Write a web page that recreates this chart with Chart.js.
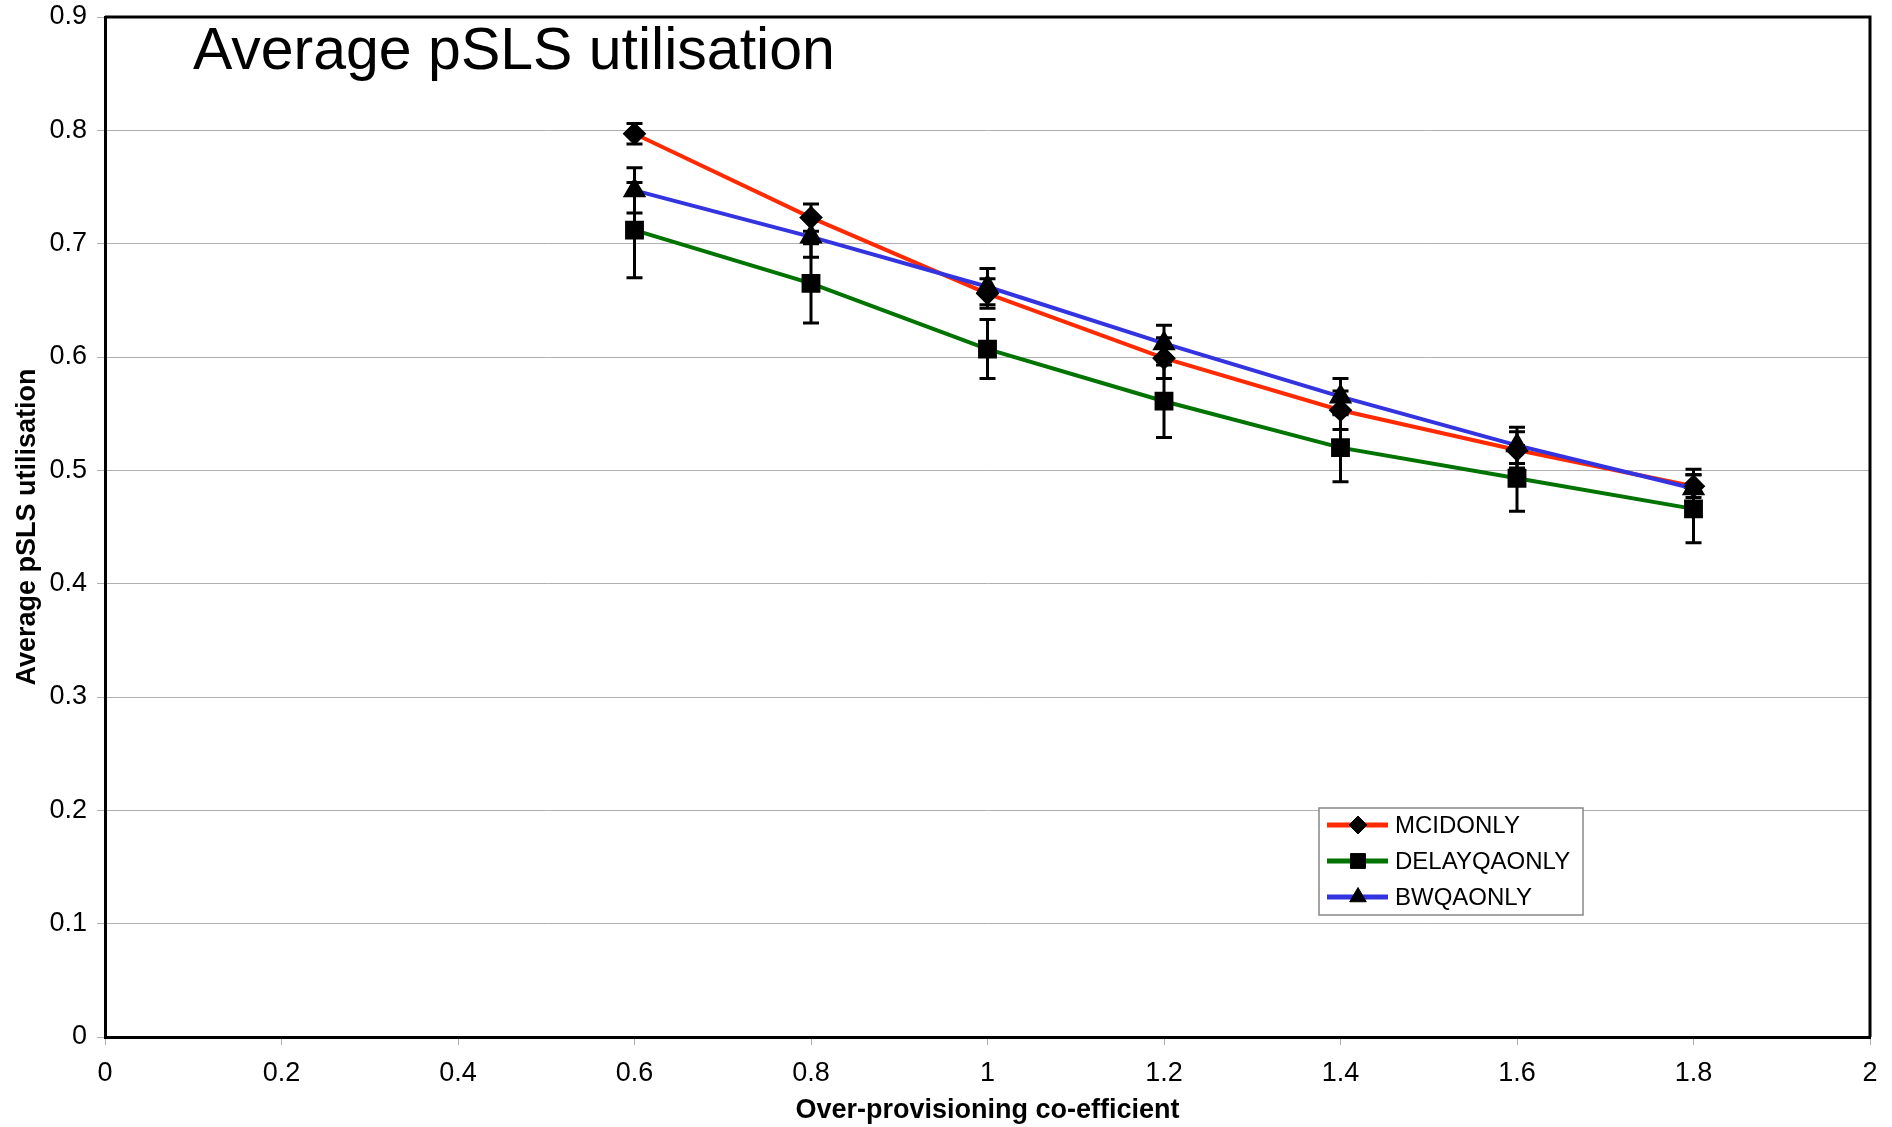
<!DOCTYPE html>
<html>
<head>
<meta charset="utf-8">
<script src="https://cdn.jsdelivr.net/npm/chart.js@4.4.0/dist/chart.umd.min.js"></script>
<style>
  body { margin: 0; background: #fff; }
  canvas { display: block; }
</style>
</head>
<body>
<canvas id="lineCanvas" width="1892" height="1127"></canvas>
<script>
// values
const xValues = [0.6, 0.8, 1.0, 1.2, 1.4, 1.6, 1.8]
const seriesNames = ["MCIDONLY", "DELAYQAONLY", "BWQAONLY"]
const mcidOnly = [0.797, 0.723, 0.656, 0.599, 0.553, 0.518, 0.486]
const mcidErr = [0.009, 0.012, 0.013, 0.018, 0.017, 0.016, 0.010]
const delayOnly = [0.712, 0.665, 0.607, 0.561, 0.520, 0.493, 0.466]
const delayErr = [0.042, 0.035, 0.026, 0.032, 0.030, 0.029, 0.030]
const bwqOnly = [0.747, 0.706, 0.662, 0.612, 0.565, 0.522, 0.484]
const bwqErr = [0.020, 0.018, 0.016, 0.016, 0.016, 0.016, 0.017]

const FONT = "'Liberation Sans', Arial, Helvetica, sans-serif"

const toPoints = (ys) => xValues.map((x, i) => ({ x: x, y: ys[i] }))

const marker = (ctx, ds, x, y) => {
    ctx.fillStyle = "#000"
    ctx.strokeStyle = "#000"
    Chart.helpers.drawPoint(ctx, {
        pointStyle: ds.pointStyle, radius: ds.pointRadius, borderWidth: 1, rotation: 0
    }, x, y)
}

// frame, big title, error bars, legend box
const extras = {
    id: "extras",
    afterDatasetsDraw(chart) {
        const ctx = chart.ctx
        const xs = chart.scales.x
        const ys = chart.scales.y
        ctx.save()
        ctx.strokeStyle = "#000"
        ctx.lineWidth = 3
        chart.data.datasets.forEach((ds) => {
            ds.data.forEach((p, i) => {
                const px = xs.getPixelForValue(p.x)
                const top = ys.getPixelForValue(p.y + ds.err[i])
                const bot = ys.getPixelForValue(p.y - ds.err[i])
                ctx.beginPath()
                ctx.moveTo(px, top)
                ctx.lineTo(px, bot)
                ctx.moveTo(px - 8, top)
                ctx.lineTo(px + 8, top)
                ctx.moveTo(px - 8, bot)
                ctx.lineTo(px + 8, bot)
                ctx.stroke()
            })
        })
        // markers again, on top of the bars
        ctx.lineWidth = 1
        chart.data.datasets.forEach((ds, i) => {
            chart.getDatasetMeta(i).data.forEach((pt) => marker(ctx, ds, pt.x, pt.y))
        })
        ctx.restore()
    },
    afterDraw(chart) {
        const ctx = chart.ctx
        const a = chart.chartArea
        ctx.save()
        ctx.strokeStyle = "#000"
        ctx.lineWidth = 3
        ctx.beginPath()
        ctx.moveTo(a.left, a.top)
        ctx.lineTo(a.right, a.top)
        ctx.lineTo(a.right, a.bottom)
        ctx.stroke()

        ctx.fillStyle = "#000"
        ctx.font = "59px " + FONT
        ctx.textBaseline = "alphabetic"
        ctx.fillText("Average pSLS utilisation", 193, 69)

        // legend
        const lx = 1319, ly = 808, lw = 264, lh = 107
        ctx.fillStyle = "#fff"
        ctx.fillRect(lx, ly, lw, lh)
        ctx.strokeStyle = "#888"
        ctx.lineWidth = 1.5
        ctx.strokeRect(lx, ly, lw, lh)
        ctx.textBaseline = "middle"
        chart.data.datasets.forEach((ds, i) => {
            const cy = ly + 17 + i * 36
            ctx.strokeStyle = ds.borderColor
            ctx.lineWidth = 5
            ctx.beginPath()
            ctx.moveTo(lx + 8, cy)
            ctx.lineTo(lx + 69, cy)
            ctx.stroke()
            ctx.lineWidth = 1
            marker(ctx, ds, lx + 39, cy)
            ctx.fillStyle = "#000"
            ctx.font = "24px " + FONT
            ctx.fillText(ds.label, lx + 76, cy + 1)
        })
        ctx.restore()
    }
}

const lineCanvas = document.getElementById("lineCanvas")

const lineChart = new Chart(lineCanvas, {
    type: "line",
    data: {
        datasets: [
            {
                label: seriesNames[0],
                data: toPoints(mcidOnly),
                err: mcidErr,
                borderColor: "#ff2a00",
                borderWidth: 4,
                pointStyle: "rectRot",
                pointRadius: 9,
                pointBackgroundColor: "#000",
                pointBorderColor: "#000",
                order: 1
            },
            {
                label: seriesNames[1],
                data: toPoints(delayOnly),
                err: delayErr,
                borderColor: "#007300",
                borderWidth: 4,
                pointStyle: "rect",
                pointRadius: 10.5,
                pointBackgroundColor: "#000",
                pointBorderColor: "#000",
                order: 2
            },
            {
                label: seriesNames[2],
                data: toPoints(bwqOnly),
                err: bwqErr,
                borderColor: "#3333e0",
                borderWidth: 4,
                pointStyle: "triangle",
                pointRadius: 9.5,
                pointBackgroundColor: "#000",
                pointBorderColor: "#000",
                order: 0
            }
        ]
    },
    options: {
        responsive: false,
        animation: false,
        layout: { padding: { left: 0, top: 17, right: 22, bottom: 0 } },
        plugins: {
            legend: { display: false },
            tooltip: { enabled: false }
        },
        scales: {
            x: {
                type: "linear",
                min: 0,
                max: 2,
                afterFit: (s) => { s.height = 90 },
                border: { color: "#000", width: 3 },
                grid: { drawOnChartArea: false, tickLength: 8, color: "#aaa" },
                ticks: {
                    stepSize: 0.2,
                    padding: 12,
                    color: "#000",
                    font: { family: FONT, size: 27 },
                    callback: (v) => String(Number(v.toFixed(1)))
                },
                title: {
                    display: true,
                    text: "Over-provisioning co-efficient",
                    color: "#000",
                    font: { family: FONT, size: 27, weight: "bold" },
                    padding: { top: 0, bottom: 0 }
                }
            },
            y: {
                min: 0,
                max: 0.9,
                afterFit: (s) => { s.width = 105; s.paddingTop = 0; s.paddingBottom = 0 },
                border: { color: "#000", width: 3 },
                grid: { color: "#b0b0b0", lineWidth: 1, tickLength: 8 },
                ticks: {
                    stepSize: 0.1,
                    padding: 10,
                    color: "#000",
                    font: { family: FONT, size: 27 },
                    callback: (v) => String(Number(v.toFixed(1)))
                },
                title: {
                    display: true,
                    text: "Average pSLS utilisation",
                    color: "#000",
                    font: { family: FONT, size: 27, weight: "bold" },
                    padding: { top: 11, bottom: 0 }
                }
            }
        }
    },
    plugins: [extras]
})
</script>
</body>
</html>
